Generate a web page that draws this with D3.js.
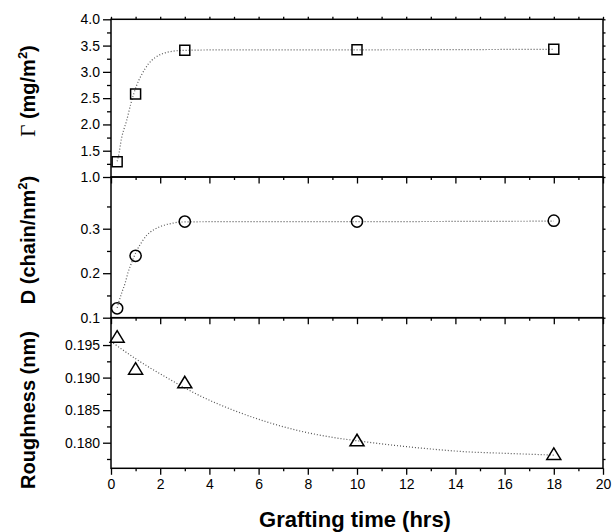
<!DOCTYPE html>
<html>
<head>
<meta charset="utf-8">
<script src="https://cdn.jsdelivr.net/npm/d3@7"></script>
<style>
  html, body { margin: 0; padding: 0; background: #fff; }
  svg { display: block; }
  .tick text { font-family: "Liberation Sans", Arial, sans-serif; font-size: 14px; fill: #000; }
  .tick line { stroke: #000; stroke-width: 1.3; }
</style>
</head>
<body>
<svg id="chart" width="613" height="532"></svg>
<script>
// ---- data ----
const graftTimes = [0.25, 1, 3, 10, 18];
const gammaValues = [1.29, 2.58, 3.41, 3.42, 3.43];
const densityValues = [0.121, 0.239, 0.316, 0.316, 0.318];
const roughnessValues = [0.1962, 0.1913, 0.1892, 0.1803, 0.1782];

// dotted fit curves
const gammaFitX = [0.25, 0.30, 0.43, 0.64, 0.81, 1.04, 1.25, 1.52, 1.79, 2.06, 2.47, 3.0, 5, 10, 18];
const gammaFitY = [1.30, 1.39, 1.74, 2.08, 2.40, 2.74, 2.95, 3.15, 3.27, 3.34, 3.39, 3.41, 3.42, 3.42, 3.43];
const densityFitX = [0.25, 0.30, 0.43, 0.57, 0.70, 0.84, 1.04, 1.25, 1.45, 1.72, 2.06, 2.47, 2.82, 5, 10, 18];
const densityFitY = [0.122, 0.132, 0.155, 0.177, 0.203, 0.224, 0.250, 0.270, 0.285, 0.297, 0.306, 0.312, 0.315, 0.316, 0.316, 0.317];
const roughnessFitX = [0.09, 1.04, 2.26, 3.62, 4.97, 6.33, 7.68, 9.04, 10.0, 11.75, 13.1, 14.46, 15.8, 18.0];
const roughnessFitY = [0.1953, 0.1928, 0.1900, 0.1872, 0.1850, 0.1832, 0.1818, 0.1808, 0.1803, 0.1795, 0.1790, 0.1786, 0.1784, 0.1781];

// axes
const xDomain = [0, 20];
const xMajorTicks = [0, 2, 4, 6, 8, 10, 12, 14, 16, 18, 20];
const xMinorTicks = [1, 3, 5, 7, 9, 11, 13, 15, 17, 19];
const gammaDomain = [1.0, 4.0];
const gammaMajorTicks = [1.0, 1.5, 2.0, 2.5, 3.0, 3.5, 4.0];
const gammaMinorTicks = [1.25, 1.75, 2.25, 2.75, 3.25, 3.75];
const densityDomain = [0.1, 0.4162];
const densityMajorTicks = [0.1, 0.2, 0.3];
const densityMinorTicks = [0.15, 0.25, 0.35];
const roughnessDomain = [0.17607, 0.1992];
const roughnessMajorTicks = [0.180, 0.185, 0.190, 0.195];
const roughnessMinorTicks = [0.1775, 0.1825, 0.1875, 0.1925];

// ---- layout ----
const svg = d3.select("#chart");
const left = 111, right = 603;
const panelTops = [19.3, 177, 317.7];
const panelBottoms = [177, 317.7, 468.3];

const x = d3.scaleLinear().domain(xDomain).range([left, right]);

const panels = [
  { values: gammaValues, fitX: gammaFitX, fitY: gammaFitY, domain: gammaDomain,
    major: gammaMajorTicks, minor: gammaMinorTicks, fmt: d3.format(".1f"), marker: "square" },
  { values: densityValues, fitX: densityFitX, fitY: densityFitY, domain: densityDomain,
    major: densityMajorTicks, minor: densityMinorTicks, fmt: d3.format(".1f"), marker: "circle" },
  { values: roughnessValues, fitX: roughnessFitX, fitY: roughnessFitY, domain: roughnessDomain,
    major: roughnessMajorTicks, minor: roughnessMinorTicks, fmt: d3.format(".3f"), marker: "triangle" }
];

const markerPaths = {
  square: "M-5,-5H5V5H-5Z",
  circle: d3.symbol().type(d3.symbolCircle).size(Math.PI * 5.6 * 5.6)(),
  triangle: "M0,-6.5L7,5L-7,5Z"
};

panels.forEach((p, i) => {
  const top = panelTops[i], bottom = panelBottoms[i];
  const y = d3.scaleLinear().domain(p.domain).range([bottom, top]);
  const g = svg.append("g");

  // fit curve
  const line = d3.line().x(d => x(d[0])).y(d => y(d[1])).curve(d3.curveMonotoneX);
  g.append("path")
    .datum(p.fitX.map((v, k) => [v, p.fitY[k]]))
    .attr("d", line)
    .attr("fill", "none")
    .attr("stroke", "#555")
    .attr("stroke-width", 1.2)
    .attr("stroke-dasharray", "1,2");

  // left axis
  const la = g.append("g").attr("transform", `translate(${left},0)`)
    .call(d3.axisLeft(y).tickValues(p.major).tickSize(8).tickPadding(3).tickFormat(p.fmt));
  la.select(".domain").remove();
  const lm = g.append("g").attr("transform", `translate(${left},0)`)
    .call(d3.axisLeft(y).tickValues(p.minor).tickSize(4).tickFormat(""));
  lm.select(".domain").remove();

  // right axis
  const ra = g.append("g").attr("transform", `translate(${right},0)`)
    .call(d3.axisRight(y).tickValues(p.major.concat(p.minor)).tickSize(2.5).tickFormat(""));
  ra.select(".domain").remove();

  // bottom axis
  const ba = g.append("g").attr("transform", `translate(0,${bottom})`)
    .call(d3.axisBottom(x).tickValues(xMajorTicks).tickSize(6.5).tickPadding(4)
      .tickFormat(i === 2 ? d3.format("d") : ""));
  ba.select(".domain").remove();
  const bm = g.append("g").attr("transform", `translate(0,${bottom})`)
    .call(d3.axisBottom(x).tickValues(xMinorTicks).tickSize(3).tickFormat(""));
  bm.select(".domain").remove();

  if (i === 0) {
    const ta = g.append("g").attr("transform", `translate(0,${top})`)
      .call(d3.axisTop(x).tickValues(xMajorTicks.concat(xMinorTicks)).tickSize(2.5).tickFormat(""));
    ta.select(".domain").remove();
  }

  // frame
  g.append("rect")
    .attr("x", left).attr("y", top)
    .attr("width", right - left).attr("height", bottom - top)
    .attr("fill", "none").attr("stroke", "#000").attr("stroke-width", 1.5);

  // markers
  g.selectAll("path.marker")
    .data(graftTimes.map((t, k) => [t, p.values[k]]))
    .join("path")
    .attr("class", "marker")
    .attr("transform", d => `translate(${x(d[0])},${y(d[1])})`)
    .attr("d", markerPaths[p.marker])
    .attr("fill", "none")
    .attr("stroke", "#000")
    .attr("stroke-width", 1.5);
});

svg.selectAll(".tick text").attr("font-size", 14);

// ---- axis titles ----
const sans = "'Liberation Sans', Arial, sans-serif";
function yTitle(cx, cy) {
  return svg.append("text")
    .attr("transform", `translate(${cx},${cy}) rotate(-90)`)
    .attr("text-anchor", "middle")
    .attr("font-family", sans)
    .attr("font-weight", "bold")
    .attr("font-size", 20)
    .attr("fill", "#000");
}
const t1 = yTitle(35, 91);
t1.append("tspan").attr("font-family", "'Liberation Serif', 'Times New Roman', serif")
  .attr("font-weight", "normal").attr("font-size", 21).text("Γ");
t1.append("tspan").text(" (mg/m");
t1.append("tspan").attr("font-size", 13).attr("dy", -8).text("2");
t1.append("tspan").attr("dy", 8).text(")");

const t2 = yTitle(35, 240);
t2.append("tspan").text("D (chain/nm");
t2.append("tspan").attr("font-size", 13).attr("dy", -8).text("2");
t2.append("tspan").attr("dy", 8).text(")");

yTitle(35, 410).text("Roughness (nm)");

svg.append("text")
  .attr("x", 355).attr("y", 527)
  .attr("text-anchor", "middle")
  .attr("font-family", sans)
  .attr("font-weight", "bold")
  .attr("font-size", 22)
  .attr("fill", "#000")
  .text("Grafting time (hrs)");
</script>
</body>
</html>
